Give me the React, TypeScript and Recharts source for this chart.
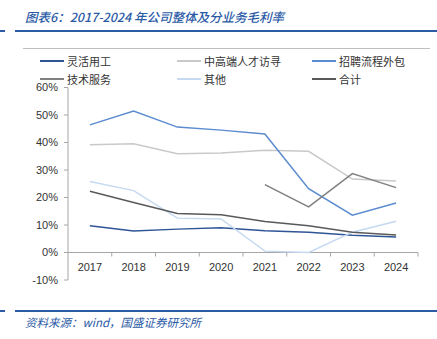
import { LineChart, Line, XAxis, YAxis, ReferenceLine } from 'recharts'

const years = ['2017', '2018', '2019', '2020', '2021', '2022', '2023', '2024']

// 毛利率 (%)
const flexStaffing = [9.7, 7.8, 8.5, 9.0, 7.9, 7.4, 6.3, 5.6]
const executiveSearch = [39.2, 39.5, 35.9, 36.2, 37.2, 36.8, 26.7, 26.0]
const rpo = [46.4, 51.4, 45.6, 44.5, 43.1, 23.2, 13.6, 18.0]
const techService = [null, null, null, null, 24.7, 16.6, 28.7, 23.6]
const others = [25.8, 22.5, 12.5, 12.2, 0.5, 0.0, 7.4, 11.4]
const total = [22.3, 18.2, 14.2, 13.7, 11.3, 9.7, 7.4, 6.4]

const yTicks = [-10, 0, 10, 20, 30, 40, 50, 60]

const series = [
  { key: 'flex', name: '灵活用工', values: flexStaffing, color: '#2F5597' },
  { key: 'exec', name: '中高端人才访寻', values: executiveSearch, color: '#C9C9C9' },
  { key: 'rpo', name: '招聘流程外包', values: rpo, color: '#5B8BD0' },
  { key: 'tech', name: '技术服务', values: techService, color: '#808080' },
  { key: 'other', name: '其他', values: others, color: '#C5D9F1' },
  { key: 'total', name: '合计', values: total, color: '#595959' },
]

const data = years.map((year, i) => {
  const row: Record<string, string | number | null> = { year }
  series.forEach((s) => {
    row[s.key] = s.values[i]
  })
  return row
})

const W = 437
const H = 339
const PLOT_LEFT = 68
const PLOT_RIGHT = 418
const PLOT_TOP = 87.5
const PLOT_BOTTOM = 280
const Y_MIN = -10
const Y_MAX = 60
const ZERO_Y = PLOT_TOP + ((Y_MAX - 0) / (Y_MAX - Y_MIN)) * (PLOT_BOTTOM - PLOT_TOP)
const BAND = (PLOT_RIGHT - PLOT_LEFT) / years.length

const BLUE = '#2C5BA6'
const AXIS = '#A6A6A6'
const labelFont = '"Liberation Sans", Arial, sans-serif'
const cjkFont = '"Noto Sans CJK SC", sans-serif'

function YearTick(props: any) {
  const { x, payload } = props
  return (
    <g>
      <line x1={x + BAND / 2} x2={x + BAND / 2} y1={ZERO_Y} y2={ZERO_Y + 4} stroke={AXIS} />
      <text x={x} y={ZERO_Y + 18} textAnchor="middle" fontSize={11} fill="#333" fontFamily={labelFont}>
        {payload.value}
      </text>
    </g>
  )
}

function LegendBox() {
  const cols = [40, 177, 312]
  return (
    <div style={{ position: 'absolute', left: 23, top: 48, width: 407, height: 42, borderTop: '1px solid #BFBFBF' }}>
      {series.map((s, i) => (
        <div
          key={s.key}
          style={{
            position: 'absolute',
            left: cols[i % 3] - 23,
            top: i < 3 ? 4 : 22,
            display: 'flex',
            alignItems: 'center',
            fontFamily: cjkFont,
            fontSize: 11,
            color: '#333',
            whiteSpace: 'nowrap',
            lineHeight: '16px',
          }}
        >
          <span style={{ display: 'inline-block', width: 24, height: 1.5, backgroundColor: s.color, marginRight: 3 }} />
          {s.name}
        </div>
      ))}
    </div>
  )
}

export default function App() {
  return (
    <div style={{ position: 'absolute', left: 0, top: 0, width: W, height: H, background: '#fff', overflow: 'hidden' }}>
      <div
        style={{
          position: 'absolute',
          left: 25,
          top: 7,
          fontFamily: cjkFont,
          fontSize: 12.5,
          fontStyle: 'italic',
          fontWeight: 500,
          color: BLUE,
          whiteSpace: 'nowrap',
        }}
      >
        图表6：2017-2024 年公司整体及分业务毛利率
      </div>
      <div style={{ position: 'absolute', left: 0, top: 30, width: 5, height: 2, background: BLUE }} />
      <div style={{ position: 'absolute', left: 15, top: 30, width: 422, height: 2, background: BLUE }} />

      <LegendBox />

      <div style={{ position: 'absolute', left: 0, top: 0 }}>
        <LineChart
          width={W}
          height={H}
          data={data}
          margin={{ top: PLOT_TOP, right: W - PLOT_RIGHT, left: 8, bottom: H - PLOT_BOTTOM - 20 }}
        >
          <XAxis
            dataKey="year"
            scale="band"
            height={20}
            axisLine={false}
            tickLine={false}
            tick={<YearTick />}
            interval={0}
          />
          <YAxis
            width={PLOT_LEFT - 8}
            domain={[Y_MIN, Y_MAX]}
            ticks={yTicks}
            interval={0}
            tickFormatter={(v: number) => `${v}%`}
            axisLine={{ stroke: AXIS }}
            tickLine={{ stroke: AXIS }}
            tickSize={4}
            tickMargin={6}
            tick={{ fontSize: 11, fill: '#333', fontFamily: labelFont }}
          />
          <ReferenceLine y={0} stroke={AXIS} strokeWidth={1} />
          {series.map((s) => (
            <Line
              key={s.key}
              dataKey={s.key}
              name={s.name}
              stroke={s.color}
              strokeWidth={1.5}
              dot={false}
              activeDot={false}
              isAnimationActive={false}
              type="linear"
            />
          ))}
        </LineChart>
      </div>

      <div style={{ position: 'absolute', left: 0, top: 310, width: 5, height: 2, background: BLUE }} />
      <div style={{ position: 'absolute', left: 15, top: 310, width: 422, height: 2, background: BLUE }} />
      <div
        style={{
          position: 'absolute',
          left: 25,
          top: 314,
          fontFamily: cjkFont,
          fontSize: 11.5,
          fontStyle: 'italic',
          color: BLUE,
          whiteSpace: 'nowrap',
        }}
      >
        资料来源：wind，国盛证券研究所
      </div>
    </div>
  )
}
